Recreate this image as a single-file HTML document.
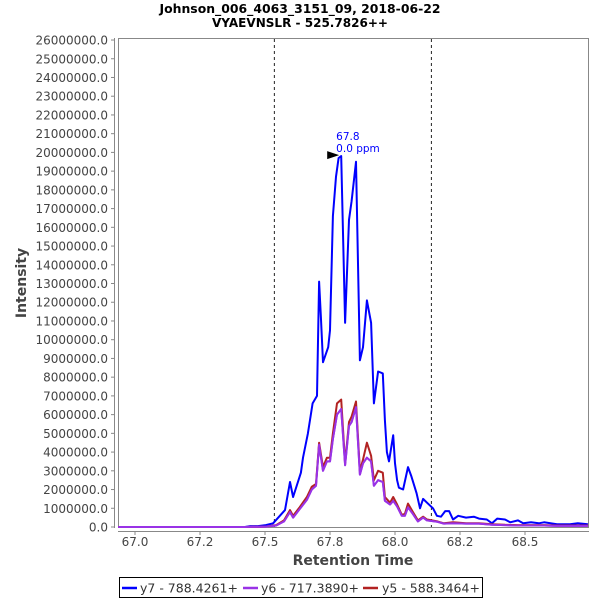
<!DOCTYPE html>
<html><head><meta charset="utf-8"><style>
body{margin:0;background:#fff;}
svg{display:block;font-family:"DejaVu Sans","Liberation Sans",sans-serif;}
</style></head><body>
<svg id="chart" width="600" height="600">
<text x="300" y="13" text-anchor="middle" font-size="12" font-weight="bold" textLength="281" lengthAdjust="spacingAndGlyphs">Johnson_006_4063_3151_09, 2018-06-22</text>
<text x="300" y="27" text-anchor="middle" font-size="12" font-weight="bold" textLength="176" lengthAdjust="spacingAndGlyphs">VYAEVNSLR - 525.7826++</text>
<rect x="118.5" y="38.5" width="470" height="489" fill="#fff" stroke="#888"/>
<g id="yaxis"></g>
<g id="xaxis"></g>
<g id="series"></g>
<text transform="translate(26,283) rotate(-90)" text-anchor="middle" font-size="14" font-weight="bold" fill="#444">Intensity</text>
<text x="353" y="565" text-anchor="middle" font-size="14" font-weight="bold" fill="#444">Retention Time</text>
<g>
<rect x="119.5" y="577.5" width="363" height="20" fill="#fff" stroke="#000"/>
<g><line x1="122" y1="588" x2="137" y2="588" stroke="#0000ff" stroke-width="2.5"/><text x="140" y="592.5" font-size="12.5" fill="#333">y7 - 788.4261+</text></g>
<g><line x1="243" y1="588" x2="258" y2="588" stroke="#9932e6" stroke-width="2.5"/><text x="261" y="592.5" font-size="12.5" fill="#333">y6 - 717.3890+</text></g>
<g><line x1="363" y1="588" x2="378" y2="588" stroke="#b22222" stroke-width="2.5"/><text x="382" y="592.5" font-size="12.5" fill="#333">y5 - 588.3464+</text></g>
</g>
</svg>
<script>
const yTicks=[0,1,2,3,4,5,6,7,8,9,10,11,12,13,14,15,16,17,18,19,20,21,22,23,24,25,26];
const xTicks=[67.0,67.25,67.5,67.75,68.0,68.25,68.5];
const xTickLabels=["67.0","67.2","67.5","67.8","68.0","68.2","68.5"];
const markers=[67.536,68.140];
const peakTime=[67.793];
const peakValue=[19.8];
const y7Times=[66.935,67.423,67.443,67.473,67.503,67.531,67.577,67.596,67.608,67.638,67.646,67.665,67.683,67.70,67.708,67.715,67.723,67.743,67.75,67.761,67.773,67.783,67.793,67.808,67.823,67.833,67.85,67.865,67.877,67.892,67.908,67.919,67.935,67.953,67.961,67.969,67.977,67.993,68.0,68.008,68.015,68.031,68.05,68.063,68.083,68.096,68.108,68.123,68.146,68.161,68.177,68.193,68.208,68.223,68.243,68.273,68.303,68.323,68.353,68.373,68.393,68.423,68.443,68.473,68.493,68.523,68.553,68.573,68.623,68.673,68.703,68.742];
const y7Values=[0,0,0.05,0.05,0.1,0.2,0.9,2.4,1.6,2.9,3.7,5.0,6.6,7.0,13.1,11.2,8.8,9.6,10.5,16.6,18.7,19.7,19.8,10.9,16.4,17.4,19.5,8.9,9.6,12.1,10.9,6.6,8.3,8.2,5.7,4.0,3.5,4.9,3.4,2.5,2.1,2.0,3.2,2.7,1.8,1.0,1.5,1.3,1.0,0.6,0.55,0.85,0.85,0.4,0.6,0.5,0.55,0.45,0.4,0.2,0.45,0.4,0.25,0.35,0.2,0.25,0.2,0.25,0.15,0.15,0.2,0.15];
const ionTimes=[66.935,67.423,67.503,67.543,67.573,67.596,67.608,67.633,67.661,67.68,67.696,67.708,67.723,67.738,67.75,67.761,67.777,67.793,67.808,67.823,67.833,67.85,67.865,67.877,67.892,67.908,67.919,67.935,67.953,67.961,67.981,67.993,68.008,68.026,68.038,68.05,68.069,68.088,68.108,68.123,68.163,68.188,68.223,68.273,68.323,68.373,68.423,68.473,68.523,68.573,68.623,68.673,68.742];
const y5Values=[0,0,0.02,0.1,0.35,0.9,0.6,1.05,1.6,2.15,2.3,4.5,3.2,3.7,3.7,5.0,6.6,6.8,3.4,5.6,5.9,6.7,3.0,3.6,4.5,3.8,2.5,3.0,2.9,1.6,1.3,1.6,1.2,0.65,0.7,1.25,0.8,0.35,0.55,0.4,0.3,0.2,0.25,0.2,0.2,0.15,0.12,0.1,0.1,0.1,0.08,0.08,0.08];
const y6Values=[0,0,0.02,0.08,0.3,0.8,0.5,0.95,1.45,2.0,2.2,4.4,3.0,3.5,3.5,4.7,6.0,6.3,3.3,5.4,5.6,6.4,2.8,3.4,3.7,3.5,2.2,2.5,2.4,1.4,1.2,1.4,1.1,0.6,0.6,1.05,0.7,0.3,0.5,0.35,0.28,0.18,0.2,0.18,0.18,0.12,0.1,0.08,0.08,0.08,0.06,0.06,0.06];

const NS="http://www.w3.org/2000/svg";
function xs(t){return 135+(t-67)*260;}
function ys(v){return 527-v*18.73;}
function mk(tag,attrs,parent){const e=document.createElementNS(NS,tag);for(const k in attrs)e.setAttribute(k,attrs[k]);parent.appendChild(e);return e;}
const yA=document.getElementById('yaxis'),xA=document.getElementById('xaxis'),S=document.getElementById('series');
mk('line',{x1:114.5,y1:38,x2:114.5,y2:528,stroke:'#888'},yA);
yTicks.forEach(v=>{const y=ys(v);
 mk('line',{x1:111,y1:y,x2:114.5,y2:y,stroke:'#888'},yA);
 const t=mk('text',{x:108,y:y+4.5,'text-anchor':'end','font-size':12,fill:'#444'},yA);t.textContent=(v*1000000).toFixed(1);
 
 
});
mk('line',{x1:118,y1:531.5,x2:589,y2:531.5,stroke:'#888'},xA);
xTicks.forEach((v,i)=>{const x=xs(v);
 mk('line',{x1:x,y1:531.5,x2:x,y2:535,stroke:'#888'},xA);
 const t=mk('text',{x:x,y:546,'text-anchor':'middle','font-size':12,fill:'#444'},xA);t.textContent=xTickLabels[i];
 
 
});
markers.forEach(m=>{const l=mk('line',{x1:xs(m),y1:39,x2:xs(m),y2:527,stroke:'#222','stroke-dasharray':'3,3'},S);
 
 
});
function line(times,vals,color,name){
 const p=mk('polyline',{points:times.map((t,i)=>xs(t).toFixed(1)+','+ys(vals[i]).toFixed(1)).join(' '),fill:'none',stroke:color,'stroke-width':2,'stroke-linejoin':'round'},S);
 
 
}
line(y7Times,y7Values,'#0000ff','series-y7');
line(ionTimes,y6Values,'#9932e6','series-y6');
line(ionTimes,y5Values,'#b22222','series-y5');
line(ionTimes,y6Values,'#9932e6','series-y6-overlay');
const px=xs(peakTime[0]),py=ys(peakValue[0]);
const arr=mk('polygon',{points:`${px-2},${py-1} ${px-14},${py-5} ${px-14},${py+3}`,fill:'#000'},S);


const a1=mk('text',{x:px-5,y:py-16,'font-size':10.5,fill:'#0000ff'},S);a1.textContent=peakTime[0].toFixed(1);


const a2=mk('text',{x:px-5,y:py-4,'font-size':10.5,fill:'#0000ff'},S);a2.textContent='0.0 ppm';


</script>
</body></html>
